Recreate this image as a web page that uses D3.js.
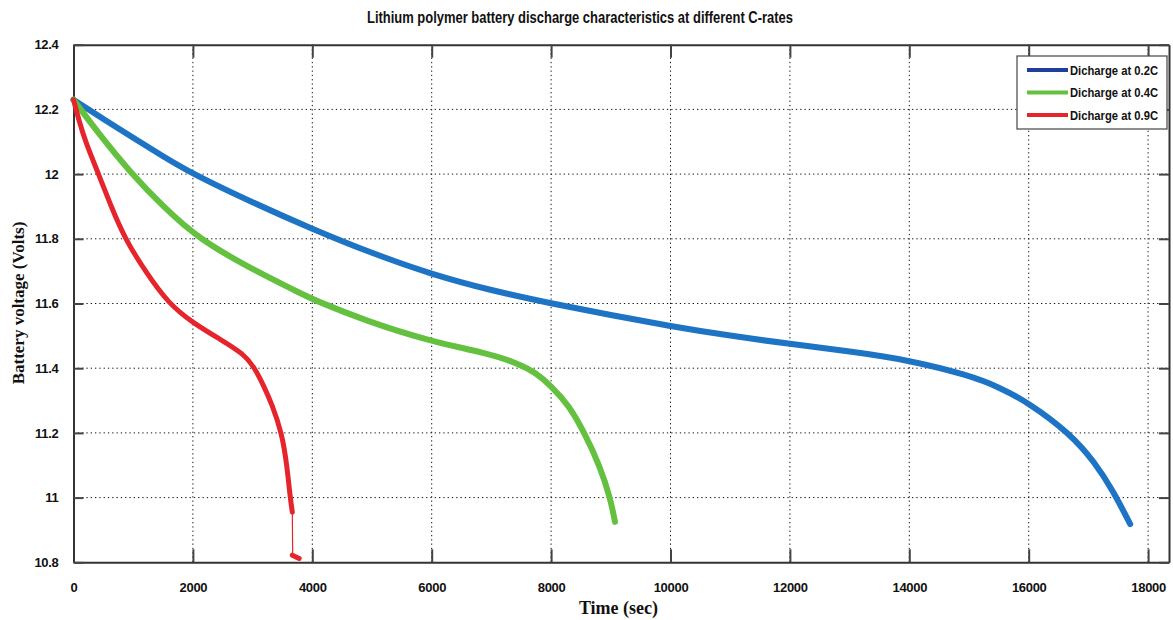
<!DOCTYPE html>
<html><head><meta charset="utf-8">
<script src="https://cdn.jsdelivr.net/npm/d3@7"></script>
<style>
body{margin:0;background:#fff;}
svg{display:block;}
</style></head>
<body>
<svg id="chart" width="1173" height="620"></svg>
<script>
const title = "Lithium polymer battery discharge characteristics at different C-rates";
const xLabel = "Time (sec)";
const yLabel = "Battery voltage (Volts)";
const xTicks = [0, 2000, 4000, 6000, 8000, 10000, 12000, 14000, 16000, 18000];
const yTicks = [10.8, 11, 11.2, 11.4, 11.6, 11.8, 12, 12.2, 12.4];
const seriesNames = ["Dicharge at 0.2C", "Dicharge at 0.4C", "Dicharge at 0.9C"];

// 0.2C discharge [time (s), voltage (V)]
const blue02C = [[0,12.23],[500,12.17],[1000,12.112],[1500,12.055],[2000,12.0],[3000,11.912],[4000,11.83],[5000,11.755],[6000,11.69],[7000,11.64],[8000,11.60],[9000,11.564],[10000,11.53],[11000,11.50],[12000,11.475],[13000,11.452],[14000,11.425],[15000,11.378],[15500,11.342],[16000,11.293],[16680,11.2],[17105,11.11],[17416,11.02],[17700,10.918]];
// 0.4C discharge
const green04C = [[0,12.23],[400,12.13],[975,12.0],[1500,11.90],[2091,11.8],[3000,11.705],[3800,11.632],[4000,11.613],[4900,11.546],[6000,11.482],[6900,11.448],[7450,11.415],[7750,11.385],[8000,11.345],[8300,11.285],[8560,11.2],[8820,11.096],[8990,11.0],[9070,10.925]];
// 0.9C discharge (main thick part, cut-off drop, tail)
const red09C = [[0,12.23],[100,12.16],[200,12.10],[420,12.0],[630,11.9],[863,11.8],[1200,11.7],[1590,11.6],[2000,11.54],[2450,11.49],[2850,11.445],[3040,11.4],[3200,11.34],[3320,11.29],[3490,11.2],[3575,11.1],[3630,11.0],[3665,10.955]];
const red09CDrop = [[3665,10.955],[3672,10.82]];
const red09CTail = [[3665,10.822],[3780,10.812]];

const colors = ["#1e74c4", "#63c13f", "#e5242b"];
const legendColors = ["#203f9c", "#63c13f", "#e5242b"];

const svg = d3.select("#chart");
const L = 73.5, R = 1169, T = 44.7, B = 562.3;
const x = d3.scaleLinear().domain([0, 18350]).range([L, R]);
const y = d3.scaleLinear().domain([10.8, 12.4]).range([B, T]);

// grid
const grid = svg.append("g");
grid.selectAll("line.gx").data(xTicks.filter(d => d > 0)).enter().append("line")
  .attr("x1", d => x(d)).attr("x2", d => x(d)).attr("y1", T).attr("y2", B)
  .attr("stroke", "#111").attr("stroke-width", 1).attr("stroke-dasharray", "1.3,3");
grid.selectAll("line.gy").data(yTicks.filter(d => d > 10.8 && d < 12.4)).enter().append("line")
  .attr("x1", L).attr("x2", R).attr("y1", d => y(d)).attr("y2", d => y(d))
  .attr("stroke", "#111").attr("stroke-width", 1).attr("stroke-dasharray", "1.3,3");

// axes
const fmt = d => String(d);
const xAxisB = d3.axisBottom(x).tickValues(xTicks).tickFormat(fmt).tickSizeInner(-13).tickSizeOuter(0).tickPadding(20);
const xAxisT = d3.axisTop(x).tickValues(xTicks).tickFormat("").tickSizeInner(-13).tickSizeOuter(0);
const yAxisL = d3.axisLeft(y).tickValues(yTicks).tickFormat(fmt).tickSizeInner(-10).tickSizeOuter(0).tickPadding(15);
const yAxisR = d3.axisRight(y).tickValues(yTicks).tickFormat("").tickSizeInner(-10).tickSizeOuter(0);

function styleAxis(g){
  g.select(".domain").attr("stroke", "#333").attr("stroke-width", 2);
  g.selectAll(".tick line").attr("stroke", "#444").attr("stroke-width", 2);
  g.selectAll(".tick text").attr("fill", "#111").style("font-family", "'Liberation Sans', Arial, sans-serif")
    .style("font-weight", "bold").style("font-size", "13px");
}
styleAxis(svg.append("g").attr("transform", `translate(0,${B})`).call(xAxisB));
styleAxis(svg.append("g").attr("transform", `translate(0,${T})`).call(xAxisT));
styleAxis(svg.append("g").attr("transform", `translate(${L},0)`).call(yAxisL));
styleAxis(svg.append("g").attr("transform", `translate(${R},0)`).call(yAxisR));
svg.selectAll(".tick text").attr("letter-spacing", "-0.3");

// lines
const line = d3.line().x(d => x(d[0])).y(d => y(d[1])).curve(d3.curveBasis);
const lineStraight = d3.line().x(d => x(d[0])).y(d => y(d[1]));
const plot = svg.append("g");
plot.append("path").datum(blue02C).attr("d", line).attr("fill", "none")
  .attr("stroke", colors[0]).attr("stroke-width", 6).attr("stroke-linecap", "round").attr("stroke-linejoin", "round");
plot.append("path").datum(green04C).attr("d", line).attr("fill", "none")
  .attr("stroke", colors[1]).attr("stroke-width", 6).attr("stroke-linecap", "round").attr("stroke-linejoin", "round");
plot.append("path").datum(red09C).attr("d", line).attr("fill", "none")
  .attr("stroke", colors[2]).attr("stroke-width", 5).attr("stroke-linecap", "round").attr("stroke-linejoin", "round");
plot.append("path").datum(red09CDrop).attr("d", lineStraight).attr("fill", "none")
  .attr("stroke", colors[2]).attr("stroke-width", 1.2);
plot.append("path").datum(red09CTail).attr("d", lineStraight).attr("fill", "none")
  .attr("stroke", colors[2]).attr("stroke-width", 5).attr("stroke-linecap", "round");

// legend
const lg = svg.append("g");
lg.append("rect").attr("x", 1017).attr("y", 56).attr("width", 150).attr("height", 73)
  .attr("fill", "#fff").attr("stroke", "#444").attr("stroke-width", 1.2);
seriesNames.forEach((n, i) => {
  const cy = 70 + i * 22.5;
  lg.append("line").attr("x1", 1027).attr("x2", 1068).attr("y1", cy).attr("y2", cy)
    .attr("stroke", legendColors[i]).attr("stroke-width", 4);
  lg.append("text").attr("x", 1070).attr("y", cy + 4.5).text(n)
    .attr("fill", "#111").style("font-family", "'Liberation Sans', Arial, sans-serif")
    .style("font-weight", "bold").style("font-size", "12px")
    .attr("textLength", 88).attr("lengthAdjust", "spacingAndGlyphs");
});

// title & labels
svg.append("text").attr("x", 580).attr("y", 23).attr("text-anchor", "middle").text(title)
  .attr("fill", "#111").style("font-family", "'Liberation Sans', Arial, sans-serif")
  .style("font-weight", "bold").style("font-size", "16.5px")
  .attr("textLength", 426).attr("lengthAdjust", "spacingAndGlyphs");
svg.append("text").attr("x", 618.5).attr("y", 614).attr("text-anchor", "middle").text(xLabel)
  .attr("fill", "#111").style("font-family", "'Liberation Serif', 'Times New Roman', serif")
  .style("font-weight", "bold").style("font-size", "18px");
svg.append("text").attr("transform", "translate(24,303) rotate(-90)").attr("text-anchor", "middle").text(yLabel)
  .attr("fill", "#111").style("font-family", "'Liberation Serif', 'Times New Roman', serif")
  .style("font-weight", "bold").style("font-size", "17px");
</script>
</body></html>
